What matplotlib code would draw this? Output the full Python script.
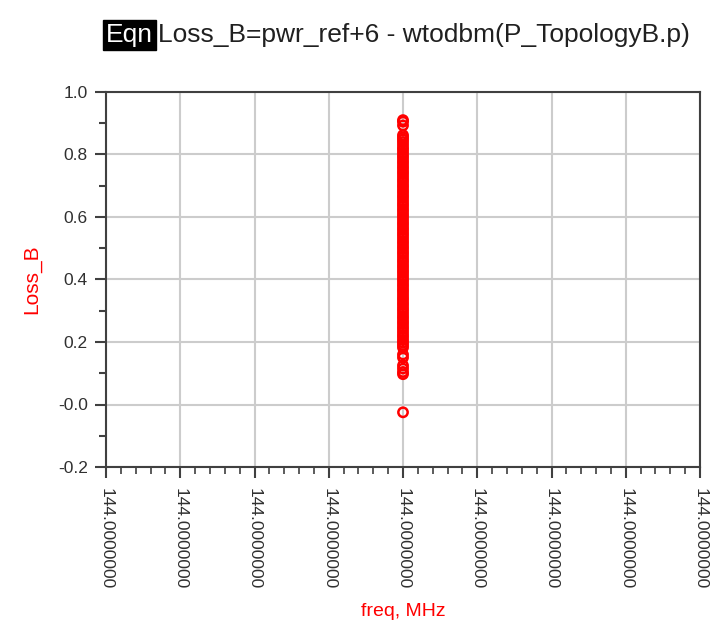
import matplotlib.pyplot as plt
from matplotlib.ticker import MultipleLocator, FixedLocator

# sweep positions on the freq axis (all 144 MHz, ADS-style 9 ticks)
freq_ticks = [0, 1, 2, 3, 4, 5, 6, 7, 8]
freq_labels = ["144.0000000"] * 9
freq_point = 4

# Loss_B values
loss_b = [0.910, 0.905, 0.893, 0.862, 0.855, 0.848, 0.840, 0.831, 0.822,
          0.815, 0.806, 0.797, 0.789, 0.780, 0.772, 0.763, 0.755, 0.746,
          0.738, 0.729, 0.720, 0.712, 0.703, 0.695, 0.686, 0.678, 0.669,
          0.661, 0.652, 0.643, 0.635, 0.626, 0.618, 0.609, 0.601, 0.592,
          0.583, 0.575, 0.566, 0.558, 0.549, 0.541, 0.532, 0.523, 0.515,
          0.506, 0.498, 0.489, 0.481, 0.472, 0.463, 0.455, 0.446, 0.438,
          0.429, 0.421, 0.412, 0.403, 0.395, 0.386, 0.378, 0.369, 0.361,
          0.352, 0.343, 0.335, 0.326, 0.318, 0.309, 0.301, 0.292, 0.283,
          0.275, 0.266, 0.258, 0.249, 0.241, 0.232, 0.223, 0.215, 0.206,
          0.198, 0.190, 0.182, 0.160, 0.150, 0.125, 0.115, 0.104, 0.097,
          -0.025]

yticks = [-0.2, 0.0, 0.2, 0.4, 0.6, 0.8, 1.0]
ytick_labels = ["-0.2", "-0.0", "0.2", "0.4", "0.6", "0.8", "1.0"]

plt.rcParams['font.family'] = ['Liberation Sans Narrow', 'Liberation Sans', 'DejaVu Sans']

fig = plt.figure(figsize=(7.1, 6.32), dpi=100)
ax = fig.add_axes([106 / 710, (632 - 467) / 632, 594 / 710, 375 / 632])

ax.scatter([freq_point] * len(loss_b), loss_b, s=45, facecolors='none',
           edgecolors='#ff0000', linewidths=1.8, zorder=3, clip_on=False)

ax.set_xlim(0, 8)
ax.set_ylim(-0.2, 1.0)
ax.xaxis.set_major_locator(FixedLocator(freq_ticks))
ax.set_xticklabels(freq_labels, rotation=270, fontsize=12.5, color='#303030')
ax.xaxis.set_minor_locator(MultipleLocator(0.2))
ax.yaxis.set_major_locator(FixedLocator(yticks))
ax.set_yticklabels(ytick_labels, fontsize=12.5, color='#303030')
ax.yaxis.set_minor_locator(MultipleLocator(0.1))

ax.grid(True, which='major', color='#cccccc', linewidth=1.5, zorder=0)
ax.set_axisbelow(True)
for sp in ax.spines.values():
    sp.set_color('#404040')
    sp.set_linewidth(1.5)

ax.tick_params(axis='both', which='major', length=8, width=1.5, color='#404040', direction='out')
ax.tick_params(axis='x', which='minor', length=5, width=1.2, color='#404040', direction='out')
ax.tick_params(axis='y', which='minor', length=5, width=1.5, color='#404040', direction='out')
ax.tick_params(axis='x', pad=7)
ax.tick_params(axis='y', pad=5)

ax.set_ylabel('Loss_B', color='#ff0000', fontsize=15, labelpad=12)
ax.set_xlabel('freq, MHz', color='#ff0000', fontsize=14, labelpad=10)

# equation header
fig.text(106 / 710, 1 - 35 / 632, 'Eqn', color='white', fontsize=19, va='center', ha='left',
         bbox=dict(facecolor='black', edgecolor='black', boxstyle='square,pad=0.1'))
fig.text(158 / 710, 1 - 35 / 632, 'Loss_B=pwr_ref+6 - wtodbm(P_TopologyB.p)', color='#202020',
         fontsize=19, va='center', ha='left')

plt.savefig('out.png', dpi=100)
